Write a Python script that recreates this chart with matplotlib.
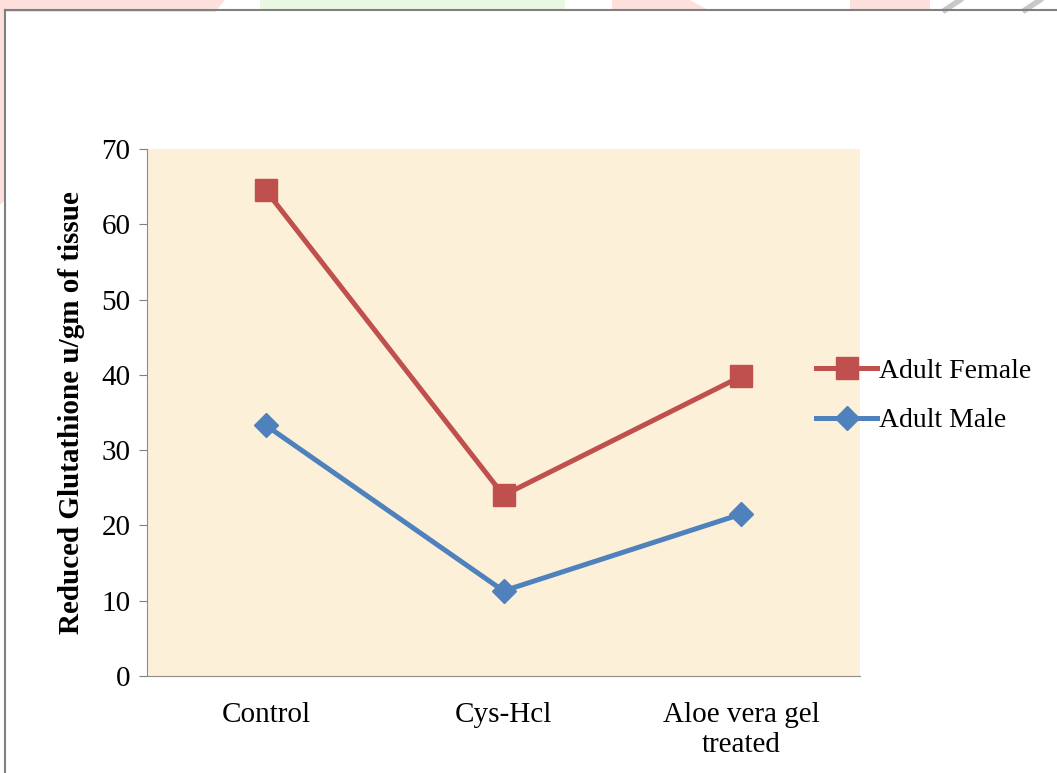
import matplotlib.pyplot as plt
from matplotlib.patches import Polygon
from matplotlib.lines import Line2D

groups = ['Control', 'Cys-Hcl', 'Aloe vera gel\ntreated']
female = [64.5, 24.0, 39.8]
male = [33.3, 11.3, 21.5]

W, H = 1057, 773


def px(x, y):
    # pixel coords (top-left origin) -> figure fraction
    return (x / W, 1 - y / H)


def main():
    plt.rcParams['font.family'] = ['Liberation Serif', 'DejaVu Serif']
    fig = plt.figure(figsize=(W / 100, H / 100), dpi=100)
    fig.patch.set_facecolor('white')

    # faint watermark shapes from the page behind the chart
    shapes = [
        ([(0, 0), (225, 0), (215, 12), (5, 12), (5, 200), (0, 205)], '#fde0dc'),
        ([(260, 0), (565, 0), (565, 10), (260, 10)], '#eaf8e3'),
        ([(612, 0), (690, 0), (708, 10), (612, 10)], '#fde0dc'),
        ([(850, 0), (930, 0), (930, 10), (850, 10)], '#fde0dc'),
    ]
    for pts, col in shapes:
        fig.patches.append(Polygon([px(*p) for p in pts], closed=True,
                                   transform=fig.transFigure, facecolor=col,
                                   edgecolor='none', zorder=0))
    for x0 in (945, 1025):
        fig.lines.append(Line2D([px(x0, 10)[0], px(x0 + 15, 0)[0]],
                                [px(x0, 10)[1], px(x0 + 15, 0)[1]],
                                transform=fig.transFigure, color='#c8c8c8', lw=4))

    # page frame
    fig.lines.append(Line2D([px(5, 10)[0], px(5, H)[0]], [px(5, 10)[1], 0],
                            transform=fig.transFigure, color='#808080', lw=1.5))
    fig.lines.append(Line2D([px(5, 10)[0], 1], [px(5, 10)[1], px(5, 10)[1]],
                            transform=fig.transFigure, color='#808080', lw=1.5))

    ax = fig.add_axes([147 / W, 1 - 676 / H, (860 - 147) / W, (676 - 149) / H])
    ax.set_facecolor('#fcf0d8')

    x = range(len(groups))
    ax.plot(x, female, color='#c0504d', lw=3.6, marker='s', markersize=16,
            label='Adult Female', zorder=3)
    ax.plot(x, male, color='#4f81bd', lw=3.6, marker='D', markersize=12,
            label='Adult Male', zorder=3)

    ax.set_xlim(-0.5, 2.5)
    ax.set_ylim(0, 70)
    ax.set_yticks(range(0, 71, 10))
    ax.set_xticks(list(x))
    ax.set_xticklabels(groups, fontsize=21, linespacing=1.2)
    ax.tick_params(axis='y', labelsize=21, length=6, color='#808080',
                   direction='out', pad=6)
    ax.tick_params(axis='x', length=0, pad=19)

    for side in ('top', 'right'):
        ax.spines[side].set_visible(False)
    ax.spines['left'].set_color('#8c8c8c')
    ax.spines['bottom'].set_color('#8c8c8c')

    ax.set_ylabel('Reduced Glutathione u/gm of tissue', fontsize=21,
                  fontweight='bold', labelpad=12)

    fig.legend(loc='center left', bbox_to_anchor=(791 / W, 1 - 396 / H),
               frameon=False, fontsize=20, handlelength=2.2,
               handletextpad=0.08, labelspacing=0.85)

    fig.savefig('out.png', dpi=100)


if __name__ == '__main__':
    main()
